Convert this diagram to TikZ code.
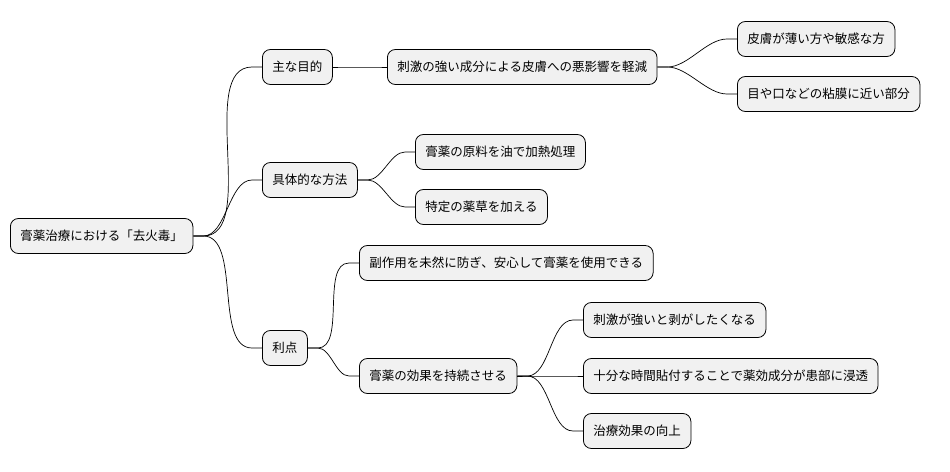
\documentclass[tikz,border=0pt]{standalone}
\usepackage{fontspec}
\setmainfont{Noto Sans CJK JP}
\definecolor{boxfill}{HTML}{F1F1F1}

\tikzset{
  topic/.style={draw=black, fill=boxfill, rounded corners=8pt, line width=0.8pt,
    minimum height=35pt, inner xsep=10pt, anchor=west,
    font=\fontsize{12.5}{15}\selectfont},
  link/.style={line width=0.7pt, black}
}

\begin{document}
\begin{tikzpicture}[x=1pt,y=-1pt]
\useasboundingbox (0,0) rectangle (950,471);

% Root and branches
\node[topic] (root) at (10,236) {膏薬治療における「去火毒」};
\node[topic] (goal) at (262,67) {主な目的};
\node[topic] (reduce) at (387,67) {刺激の強い成分による皮膚への悪影響を軽減};
\node[topic] (thin) at (737,39) {皮膚が薄い方や敏感な方};
\node[topic] (mucosa) at (737,94) {目や口などの粘膜に近い部分};
\node[topic] (method) at (262,180) {具体的な方法};
\node[topic] (heat) at (415,152) {膏薬の原料を油で加熱処理};
\node[topic] (herb) at (415,207) {特定の薬草を加える};
\node[topic] (merit) at (262,348) {利点};
\node[topic] (safe) at (359,263) {副作用を未然に防ぎ、安心して膏薬を使用できる};
\node[topic] (last) at (359,376) {膏薬の効果を持続させる};
\node[topic] (peel) at (583,320) {刺激が強いと剥がしたくなる};
\node[topic] (soak) at (583,376) {十分な時間貼付することで薬効成分が患部に浸透};
\node[topic] (gain) at (583,431) {治療効果の向上};

% Connectors
\foreach \p/\c in {root/goal, root/method, root/merit, goal/reduce,
    reduce/thin, reduce/mucosa, method/heat, method/herb,
    merit/safe, merit/last, last/peel, last/soak, last/gain} {
  \draw[link] (\p.east) -- ++(10,0) to[out=0,in=180,looseness=0.8] ([xshift=-10pt]\c.west) -- (\c.west);
}
\end{tikzpicture}
\end{document}
